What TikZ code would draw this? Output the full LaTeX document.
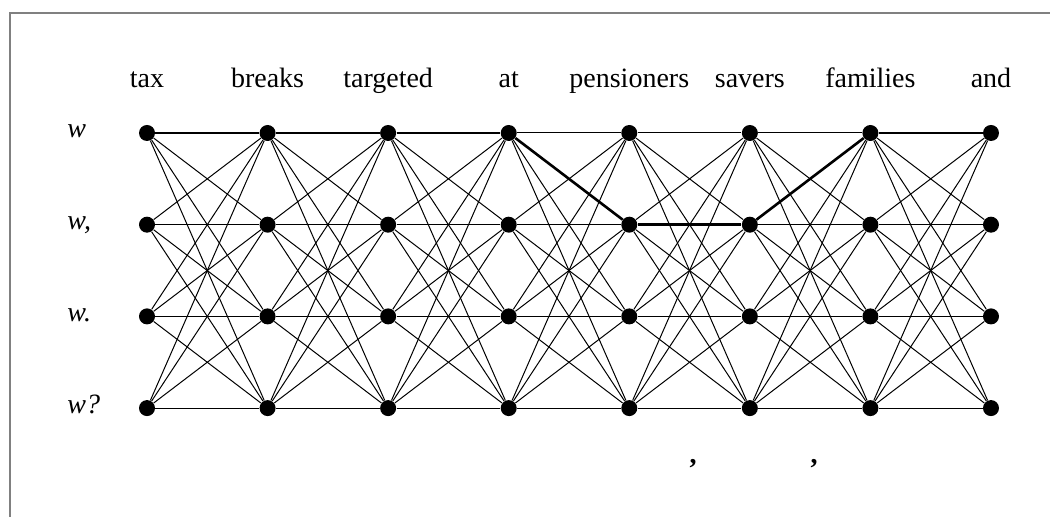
\documentclass[tikz,border=0pt]{standalone}
\usepackage{fontspec}
\setmainfont{Liberation Serif}
\pgfdeclarelayer{background}
\pgfsetlayers{background,main}
\def\words{{1/tax}, {2/breaks}, {3/targeted}, {4/at}, {5/pensioners}, {6/savers}, {7/families}, {8/and}}
\def\tags{{1/w}, {2/w,}, {3/w.}, {4/w?}}
\def\bestPath{1-1/2-1, 2-1/3-1, 3-1/4-1, 4-1/5-2, 5-2/6-2, 6-2/7-1, 7-1/8-1}
\tikzstyle{vertex}=[circle,fill=black,minimum size=8pt,inner sep=0pt]
\tikzstyle{edge} = [draw,line width=0.5pt,-]
\tikzstyle{selected edge} = [draw,line width=1.3pt,-]
\tikzstyle{word} = [font=\fontsize{14}{16}\selectfont,anchor=base,inner sep=0pt]
\tikzstyle{frame} = [draw,gray,line width=1pt]

\begin{document}
\begin{tikzpicture}[x=0.5pt,y=-0.5pt]
  \useasboundingbox (0,0) rectangle (1050,517);
  \path[frame] (10,517) -- (10,13) -- (1050,13);

  % One column of tag vertices under every word
  \foreach \c/\word in \words {
    \node[word] (word\c) at ({147+(\c-1)*120.57}, 88) {\word};
    \foreach \r in {1,...,4}
      \node[vertex] (\c-\r) at ({147+(\c-1)*120.57}, {133+(\r-1)*91.7}) {};
  }

  % Tag names down the left side
  \foreach \r/\tag in \tags
    \node[word,anchor=base west] (tag\r) at (67, {138+(\r-1)*91.7}) {\textit{\tag}};

  % Every tag of a column is joined to every tag of the next one
  \begin{pgfonlayer}{background}
    \foreach \c in {1,...,7} {
      \pgfmathtruncatemacro{\n}{\c+1}
      \foreach \r in {1,...,4}
        \foreach \s in {1,...,4}
          \path[edge] (\c-\r) -- (\n-\s);
    }
  \end{pgfonlayer}

  % The chosen path
  \foreach \source/ \dest in \bestPath
    \path[selected edge] (\source) -- (\dest);

  % Commas below the last columns
  \node[word] (comma1) at (693, 464) {\textbf{,}};
  \node[word] (comma2) at (814, 464) {\textbf{,}};
\end{tikzpicture}
\end{document}
